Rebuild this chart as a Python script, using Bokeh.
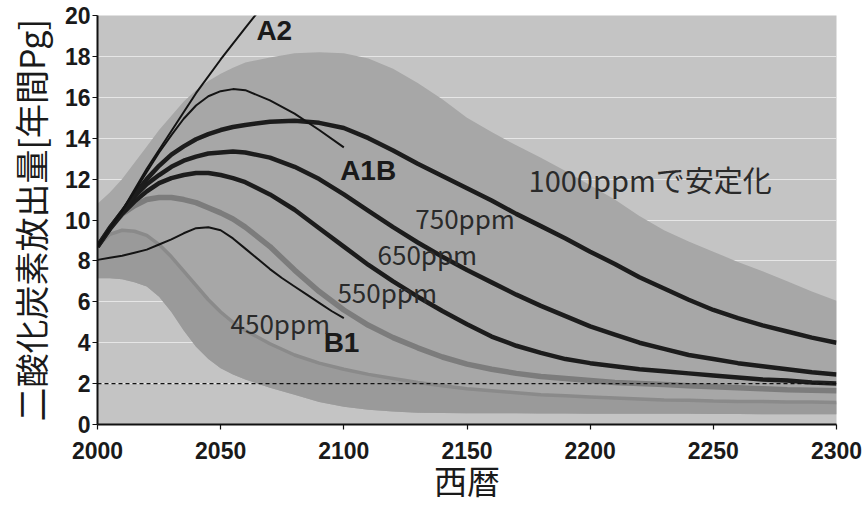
import numpy as np
from bokeh.plotting import figure
from bokeh.models import FixedTicker, Span, Range1d
from bokeh.core.properties import value
from bokeh.embed import file_html
from bokeh.resources import INLINE

# ---------------- data ----------------
years = [2000, 2005, 2010, 2015, 2020, 2025, 2030, 2035, 2040, 2045, 2050, 2055, 2060,
         2070, 2080, 2090, 2100, 2110, 2120, 2130, 2140, 2150, 2160, 2170, 2180, 2190,
         2200, 2210, 2220, 2230, 2240, 2250, 2260, 2270, 2280, 2290, 2300]

ppm1000 = [8.7, 9.6, 10.4, 11.25, 12.0, 12.65, 13.2, 13.6, 13.95, 14.2, 14.4, 14.55, 14.65,
           14.8, 14.85, 14.75, 14.5, 14.0, 13.4, 12.75, 12.15, 11.55, 10.95, 10.3, 9.7, 9.1,
           8.45, 7.85, 7.2, 6.65, 6.1, 5.6, 5.2, 4.85, 4.55, 4.25, 4.0]
ppm750 = [8.7, 9.6, 10.4, 11.15, 11.75, 12.2, 12.6, 12.9, 13.1, 13.25, 13.3, 13.35, 13.3,
          13.05, 12.6, 12.0, 11.25, 10.45, 9.65, 8.9, 8.2, 7.55, 6.95, 6.35, 5.8, 5.3,
          4.8, 4.4, 4.0, 3.7, 3.4, 3.2, 3.0, 2.85, 2.7, 2.55, 2.45]
ppm650 = [8.7, 9.55, 10.3, 10.9, 11.4, 11.8, 12.05, 12.2, 12.3, 12.3, 12.2, 12.05, 11.85,
          11.25, 10.5, 9.6, 8.7, 7.8, 7.0, 6.25, 5.55, 4.9, 4.3, 3.85, 3.5, 3.2,
          3.0, 2.85, 2.7, 2.6, 2.5, 2.4, 2.3, 2.2, 2.15, 2.05, 2.0]
ppm550 = [8.7, 9.6, 10.3, 10.7, 11.0, 11.1, 11.1, 11.0, 10.85, 10.6, 10.35, 10.05, 9.65,
          8.7, 7.55, 6.5, 5.6, 4.85, 4.25, 3.75, 3.3, 2.95, 2.7, 2.5, 2.35, 2.25,
          2.15, 2.05, 2.0, 1.95, 1.9, 1.85, 1.8, 1.75, 1.7, 1.68, 1.65]
ppm450 = [8.7, 9.3, 9.5, 9.45, 9.25, 8.8, 8.2, 7.5, 6.8, 6.1, 5.5, 5.0, 4.6,
          3.95, 3.4, 3.0, 2.7, 2.45, 2.25, 2.05, 1.9, 1.75, 1.65, 1.55, 1.45, 1.4,
          1.35, 1.3, 1.25, 1.2, 1.18, 1.15, 1.13, 1.12, 1.1, 1.1, 1.08]
range_upper = [10.8, 11.35, 12.0, 12.8, 13.6, 14.4, 15.1, 15.8, 16.35, 16.8, 17.15, 17.45, 17.7,
               17.95, 18.15, 18.2, 18.15, 17.9, 17.4, 16.7, 15.9, 15.0, 14.3, 13.65, 13.05, 12.4,
               11.7, 11.0, 10.2, 9.5, 8.95, 8.45, 7.95, 7.5, 7.0, 6.5, 6.05]
range_lower = [7.15, 7.15, 7.1, 6.95, 6.75, 6.25, 5.5, 4.6, 3.8, 3.2, 2.75, 2.45, 2.2,
               1.8, 1.45, 1.1, 0.87, 0.72, 0.63, 0.58, 0.56, 0.55, 0.55, 0.55, 0.54, 0.54,
               0.53, 0.53, 0.52, 0.52, 0.52, 0.51, 0.51, 0.5, 0.5, 0.5, 0.5]

a2_years = [2000, 2010, 2020, 2030, 2040, 2050, 2060, 2066]
a2_vals = [8.7, 10.45, 12.5, 14.35, 16.2, 17.85, 19.4, 20.3]

a1b_years = [2000, 2005, 2010, 2015, 2020, 2025, 2030, 2035, 2040, 2045, 2050, 2055, 2060,
             2070, 2080, 2090, 2100]
a1b_vals = [8.7, 9.6, 10.45, 11.4, 12.35, 13.3, 14.15, 14.95, 15.6, 16.05, 16.3, 16.4, 16.35,
            15.85, 15.2, 14.4, 13.55]

b1_years = [2000, 2005, 2010, 2015, 2020, 2025, 2030, 2035, 2040, 2045, 2050,
            2055, 2060, 2065, 2070, 2075, 2080, 2085, 2090, 2095, 2100]
b1_vals = [8.05, 8.15, 8.25, 8.4, 8.55, 8.8, 9.05, 9.35, 9.6, 9.65, 9.5,
           9.1, 8.6, 8.1, 7.6, 7.15, 6.75, 6.35, 5.95, 5.55, 5.2]

reference_level = 2.0

x_ticks = [2000, 2050, 2100, 2150, 2200, 2250, 2300]
y_ticks = [0, 2, 4, 6, 8, 10, 12, 14, 16, 18, 20]

scenario_names = ["A2", "A1B", "B1"]
stab_main_name = ["1000ppmで安定化"]
ppm_names = ["750ppm", "650ppm", "550ppm", "450ppm"]
y_title = "二酸化炭素放出量[年間Pg]"
x_title = "西暦"

# label anchors (data coordinates, left / baseline)
scenario_x = [2064.5, 2098.5, 2091.8]
scenario_y = [19.28, 12.4, 4.0]
stab_main_x = [2175]
stab_main_y = [12.02]
ppm_x = [2129, 2113.7, 2097.4, 2054]
ppm_y = [10.1, 8.36, 6.5, 5.0]

# ---------------- figure ----------------
p = figure(width=862, height=508, x_range=Range1d(2000, 2300), y_range=Range1d(0, 20),
           output_backend="svg", toolbar_location=None,
           min_border_left=97, min_border_right=26, min_border_top=15, min_border_bottom=84)
p.background_fill_color = "#c4c4c4"
p.border_fill_color = "white"
p.outline_line_color = None

p.xgrid.visible = False
p.ygrid.ticker = FixedTicker(ticks=y_ticks[1:-1])
p.ygrid.grid_line_color = "#e6e6e6"
p.ygrid.grid_line_width = 1.2

# bands
p.varea(x=years, y1=range_lower, y2=range_upper, fill_color="#a7a7a7")
p.varea(x=years, y1=range_lower, y2=ppm450, fill_color="#9a9a9a")

# gray stabilisation paths
p.line(years, ppm450, line_color="#8a8a8a", line_width=3.5)
p.line(years, ppm550, line_color="#7c7c7c", line_width=5.5)

# black stabilisation paths
for series in (ppm650, ppm750, ppm1000):
    p.line(years, series, line_color="#1c1c1c", line_width=4.5)

# SRES scenarios (thin)
p.line(a2_years, a2_vals, line_color="#141414", line_width=2)
p.line(a1b_years, a1b_vals, line_color="#141414", line_width=2)
p.line(b1_years, b1_vals, line_color="#141414", line_width=2)

p.add_layout(Span(location=reference_level, dimension="width", line_color="#111111",
                  line_width=1.3, line_dash="4 3"))

# in-plot labels
p.text(x=scenario_x, y=scenario_y, text=scenario_names,
       text_font=value("Liberation Sans"), text_font_style="bold", text_font_size="28px",
       text_color="#1a1a1a", text_align="left", text_baseline="alphabetic")
p.text(x=stab_main_x, y=stab_main_y, text=stab_main_name,
       text_font=value("Noto Sans CJK JP"), text_font_size="29px",
       text_color="#2a2a2a", text_align="left", text_baseline="alphabetic")
p.text(x=ppm_x, y=ppm_y, text=ppm_names,
       text_font=value("Noto Sans CJK JP"), text_font_size="26px",
       text_color="#2a2a2a", text_align="left", text_baseline="alphabetic")

# axes
for ax in (p.xaxis[0], p.yaxis[0]):
    ax.axis_line_color = "#111111"
    ax.axis_line_width = 2
    ax.major_tick_line_color = "#111111"
    ax.major_tick_line_width = 1.2
    ax.major_tick_out = 5
    ax.major_tick_in = 0
    ax.minor_tick_line_color = None
    ax.major_label_text_font = "Liberation Sans"
    ax.major_label_text_font_style = "bold"
    ax.major_label_text_font_size = "23px"
    ax.major_label_text_color = "#1a1a1a"
    ax.axis_label_text_font = "Noto Sans CJK JP"
    ax.axis_label_text_font_style = "normal"
    ax.axis_label_text_color = "#1a1a1a"
p.xaxis.ticker = FixedTicker(ticks=x_ticks)
p.yaxis.ticker = FixedTicker(ticks=y_ticks)
p.xaxis.major_label_standoff = 12
p.yaxis.major_label_standoff = 2

p.yaxis.axis_label = y_title
p.yaxis.axis_label_text_font_size = "34px"
p.yaxis.axis_label_standoff = 7
p.xaxis.axis_label = x_title
p.xaxis.axis_label_text_font_size = "33px"
p.xaxis.axis_label_standoff = -6

open("out.html", "w").write(file_html(p, INLINE))
